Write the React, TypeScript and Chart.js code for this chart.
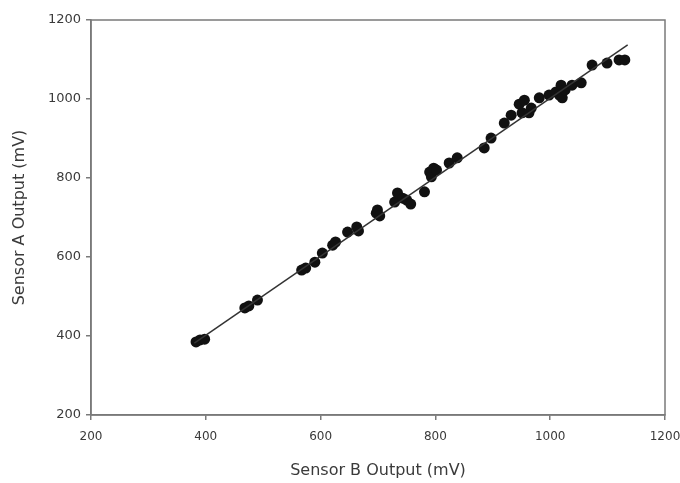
import React, { useEffect, useRef } from "react";
import { Chart, registerables } from "chart.js";

Chart.register(...registerables);

const sensorB = [383, 390, 398, 468, 475, 490, 567, 574, 590, 603, 621, 626, 647, 663, 666, 697, 699, 703, 729, 734, 743, 750, 757, 781, 790, 793, 797, 802, 824, 838, 885, 897, 920, 932, 946, 951, 955, 963, 967, 981, 998, 1010, 1016, 1019, 1021, 1026, 1038, 1054, 1073, 1099, 1120, 1130];
const sensorA = [385, 390, 392, 471, 476, 491, 567, 572, 587, 610, 630, 638, 663, 676, 666, 711, 719, 704, 739, 762, 749, 744, 734, 765, 815, 803, 825, 820, 838, 851, 876, 901, 939, 959, 987, 965, 997, 965, 977, 1003, 1010, 1018, 1010, 1035, 1003, 1023, 1035, 1041, 1086, 1091, 1099, 1099];
const fitX = [380, 1135];
const fitY = [382, 1137];
const tickValues = [200, 400, 600, 800, 1000, 1200];

const boxPlugin = {
  id: "box",
  afterDraw(chart: any) {
    const { ctx, chartArea } = chart;
    ctx.save();
    ctx.strokeStyle = "#7a7a7a";
    ctx.lineWidth = 1.5;
    ctx.strokeRect(chartArea.left, chartArea.top, chartArea.right - chartArea.left, chartArea.bottom - chartArea.top);
    ctx.restore();
  },
};

const xTickFont = { family: "DejaVu Sans", size: 12 };
const yTickFont = { family: "DejaVu Sans", size: 13 };
const titleFont = { family: "DejaVu Sans", size: 16 };

export default function App() {
  const ref = useRef<HTMLCanvasElement>(null);
  useEffect(() => {
    if (!ref.current) return;
    const chart = new Chart(ref.current, {
      type: "scatter",
      data: {
        datasets: [
          {
            type: "line",
            data: fitX.map((x, i) => ({ x, y: fitY[i] })),
            borderColor: "#333",
            borderWidth: 1.5,
            pointRadius: 0,
            fill: false,
          } as any,
          {
            data: sensorB.map((x, i) => ({ x, y: sensorA[i] })),
            backgroundColor: "#111",
            borderColor: "#111",
            pointRadius: 5.5,
            pointBorderWidth: 0,
          },
        ],
      },
      options: {
        animation: false,
        responsive: false,
        maintainAspectRatio: false,
        layout: { padding: { left: 0, top: 20, right: 15, bottom: 0 } },
        plugins: { legend: { display: false }, tooltip: { enabled: false } },
        scales: {
          x: {
            type: "linear",
            min: 200,
            max: 1200,
            afterBuildTicks: (s: any) => { s.ticks = tickValues.map((v) => ({ value: v })); },
            afterFit: (s: any) => { s.height = 68; s.paddingLeft = 0; s.paddingRight = 0; },
            grid: { drawOnChartArea: false, drawTicks: true, tickLength: 5, color: "#7a7a7a", lineWidth: 1.5 },
            border: { display: true, color: "#7a7a7a", width: 1.5 },
            ticks: { color: "#3a3a3a", font: xTickFont, padding: 10, maxRotation: 0, callback: (v: any) => String(v) },
            title: { display: true, text: "Sensor B Output (mV)", color: "#3a3a3a", font: titleFont, padding: { top: 3, bottom: 3 } },
          },
          y: {
            type: "linear",
            min: 200,
            max: 1200,
            afterBuildTicks: (s: any) => { s.ticks = tickValues.map((v) => ({ value: v })); },
            afterFit: (s: any) => { s.width = 91; s.paddingTop = 0; s.paddingBottom = 0; },
            grid: { drawOnChartArea: false, drawTicks: true, tickLength: 5, color: "#7a7a7a", lineWidth: 1.5 },
            border: { display: true, color: "#7a7a7a", width: 1.5 },
            ticks: { color: "#3a3a3a", font: yTickFont, padding: 5, callback: (v: any) => String(v) },
            title: { display: true, text: "Sensor A Output (mV)", color: "#3a3a3a", font: titleFont, padding: { top: 10, bottom: 10 } },
          },
        },
      },
      plugins: [boxPlugin],
    });
    return () => chart.destroy();
  }, []);
  return (
    <div style={{ position: "fixed", left: 0, top: 0, width: 680, height: 483, background: "#fff" }}>
      <canvas ref={ref} width={680} height={483} style={{ width: 680, height: 483 }} />
    </div>
  );
}
